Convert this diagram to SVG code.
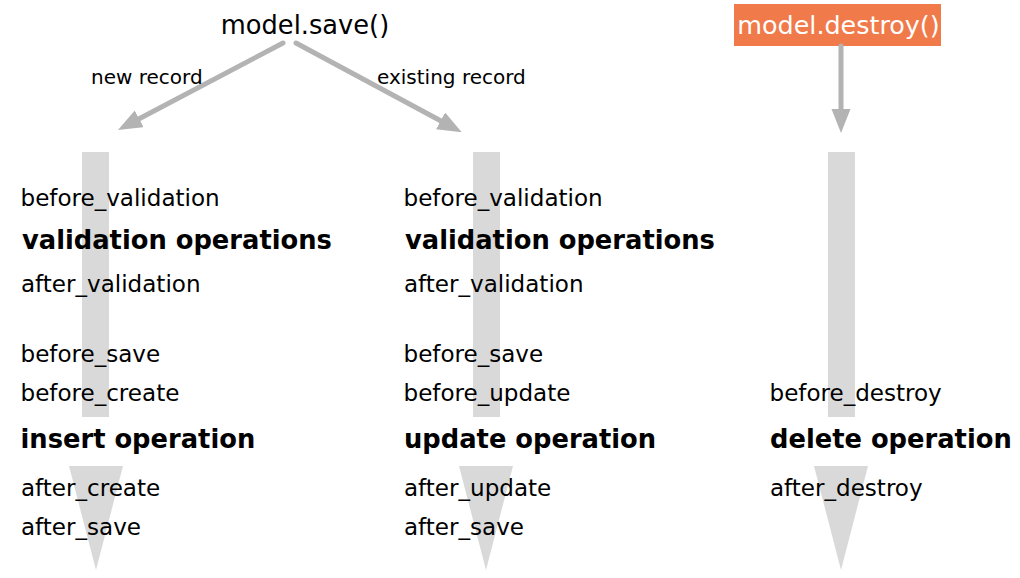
<svg xmlns="http://www.w3.org/2000/svg" width="1020" height="578" viewBox="0 0 1020 578">
<defs>
<marker id="ah" markerUnits="userSpaceOnUse" markerWidth="26" markerHeight="20" refX="0" refY="9.5" orient="auto">
<path d="M0,0 L24,9.5 L0,19 z" fill="#b3b3b3"/>
</marker>
<style>
text{font-family:"DejaVu Sans","Liberation Sans",sans-serif;fill:#000}
.ev{font-size:23.05px}
.op{font-size:25.75px;font-weight:bold}
.lbl{font-size:20px}
.title{font-size:25.7px;text-anchor:middle}
.shaft{fill:#d9d9d9}
.conn{stroke:#b3b3b3;stroke-width:5;stroke-linecap:round;fill:none;marker-end:url(#ah)}
</style>
</defs>
<rect width="1020" height="578" fill="#fff"/>
<g id="save">
<text class="title" x="305" y="34">model.save()</text>
</g>
<g id="destroy">
<rect x="734" y="4" width="207" height="42" fill="#f07a4a"/>
<text class="title" x="838.5" y="34" style="fill:#fff;font-size:25.4px">model.destroy()</text>
</g>
<g id="connectors">
<line class="conn" x1="283" y1="43" x2="139.2" y2="118.8"/>
<line class="conn" x1="296" y1="43" x2="440.6" y2="120.8"/>
<line class="conn" x1="841" y1="46" x2="841" y2="109"/>
<text class="lbl" x="91" y="84">new record</text>
<text class="lbl" x="377" y="84">existing record</text>
</g>
<g id="create-flow">
<rect class="shaft" x="82" y="152" width="27" height="265"/>
<polygon class="shaft" points="69,466 123,466 96,570"/>
<text class="ev" x="20.5" y="206">before_validation</text>
<text class="op" x="22" y="249">validation operations</text>
<text class="ev" x="21" y="292">after_validation</text>
<text class="ev" x="20.5" y="362">before_save</text>
<text class="ev" x="20.5" y="401">before_create</text>
<text class="op" x="20.5" y="448">insert operation</text>
<text class="ev" x="21" y="496">after_create</text>
<text class="ev" x="21" y="535">after_save</text>
</g>
<g id="update-flow">
<rect class="shaft" x="473" y="152" width="27" height="265"/>
<polygon class="shaft" points="459,466 513,466 486,570"/>
<text class="ev" x="403.5" y="206">before_validation</text>
<text class="op" x="405" y="249">validation operations</text>
<text class="ev" x="404" y="292">after_validation</text>
<text class="ev" x="403.5" y="362">before_save</text>
<text class="ev" x="403.5" y="401">before_update</text>
<text class="op" x="404" y="448">update operation</text>
<text class="ev" x="404" y="496">after_update</text>
<text class="ev" x="404" y="535">after_save</text>
</g>
<g id="destroy-flow">
<rect class="shaft" x="828" y="152" width="27" height="265"/>
<polygon class="shaft" points="814,466 868,466 841,570"/>
<text class="ev" x="769.5" y="401">before_destroy</text>
<text class="op" x="770" y="448">delete operation</text>
<text class="ev" x="770" y="496">after_destroy</text>
</g>
</svg>
